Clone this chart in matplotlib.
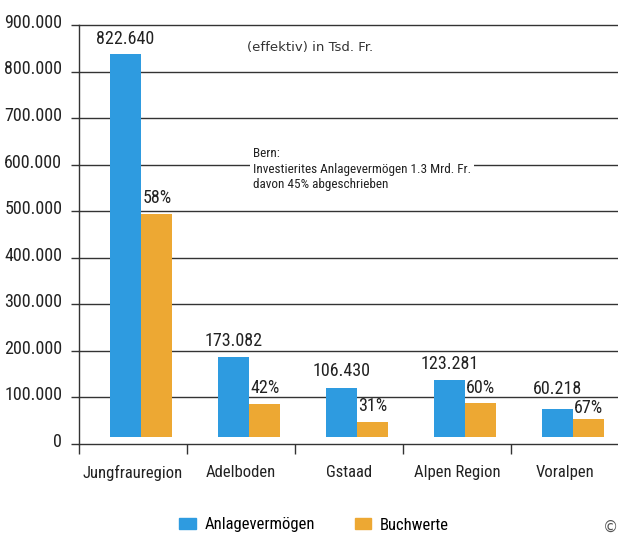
import numpy as np
import matplotlib
matplotlib.use("Agg")
import matplotlib.pyplot as plt
from matplotlib import font_manager
from matplotlib.patches import Patch
from matplotlib.transforms import ScaledTranslation

# data (Tsd. Fr.)
regions = ["Jungfrauregion", "Adelboden", "Gstaad", "Alpen Region", "Voralpen"]
anlage = [822640, 173082, 106430, 123281, 60218]
buchwerte = [480000, 72000, 33000, 73000, 40000]
anlage_labels = ["822.640", "173.082", "106.430", "123.281", "60.218"]
buch_labels = ["58%", "42%", "31%", "60%", "67%"]
yticks = [0, 100000, 200000, 300000, 400000, 500000, 600000, 700000, 800000, 900000]

BLUE = "#2e9be0"
ORANGE = "#eda833"
LINE = "#333333"

# narrow font if there is one, otherwise condensed dejavu
names = {f.name for f in font_manager.fontManager.ttflist}
narrow = None
for n in ["Liberation Sans Narrow", "Roboto Condensed", "Open Sans Condensed"]:
    if n in names:
        narrow = n
        break
if narrow:
    nfont = dict(family=[narrow, "DejaVu Sans"])
else:
    nfont = dict(family=["DejaVu Sans"], stretch="condensed")

fig = plt.figure(figsize=(6.18, 5.34), dpi=100)
ax = fig.add_axes([79 / 618, 90 / 534, 540 / 618, 419 / 534])

x = np.arange(len(regions))
shift = 0.075
w = 0.29
base = 14000  # bars float a little above the axis line

ax.bar(x + shift - w / 2, anlage, w, bottom=base, color=BLUE, zorder=3)
ax.bar(x + shift + w / 2, buchwerte, w, bottom=base, color=ORANGE, zorder=3)

# label offsets in points; the last pair is squeezed like in the original
blue_off = [5, 5, 6, 5, 8]
orange_off = [5, 5, 5, 5, 1]
for i in range(len(regions)):
    ax.annotate(anlage_labels[i], (x[i] + shift - w / 2, base + anlage[i]),
                xytext=(0, blue_off[i]), textcoords="offset points", ha="center",
                va="bottom", fontsize=13, color="#222222", **nfont)
    ax.annotate(buch_labels[i], (x[i] + shift + w / 2, base + buchwerte[i]),
                xytext=(0, orange_off[i]), textcoords="offset points", ha="center",
                va="bottom", fontsize=13, color="#222222", **nfont)

# horizontal rules
for v in yticks[1:]:
    ax.axhline(v, color=LINE, lw=1.0, zorder=1, clip_on=False)

ax.set_xlim(-0.5, len(regions) - 0.5)
ax.set_ylim(0, 900000)

ax.set_yticks(yticks)
ax.set_yticklabels(["{:,.0f}".format(v).replace(",", ".") for v in yticks], fontsize=13, **nfont)
ax.tick_params(axis="y", length=6, width=1.0, color=LINE, pad=6, labelcolor="#222222")
up = ScaledTranslation(0, 3 / 72, fig.dpi_scale_trans)
for lab in ax.get_yticklabels():
    lab.set_transform(lab.get_transform() + up)

ax.set_xticks(np.arange(len(regions) + 1) - 0.5)
ax.set_xticklabels([])
ax.tick_params(axis="x", which="major", length=7, width=1.0, color=LINE)
ax.set_xticks(x, minor=True)
ax.set_xticklabels(regions, minor=True, fontsize=12, color="#222222", **nfont)
ax.tick_params(axis="x", which="minor", length=0, pad=15)

for s in ["top", "right"]:
    ax.spines[s].set_visible(False)
for s in ["left", "bottom"]:
    ax.spines[s].set_color(LINE)
    ax.spines[s].set_linewidth(1.0)

# notes
fig.text(247 / 618, 1 - 47 / 534, "(effektiv) in Tsd. Fr.", fontsize=9.5,
         color="#333333", va="center", ha="left")
fig.text(253 / 618, 1 - 169 / 534,
         "Bern:\nInvestierites Anlagevermögen 1.3 Mrd. Fr.\ndavon 45% abgeschrieben",
         fontsize=9.5, color="#222222", va="center", ha="left", linespacing=1.25,
         bbox=dict(boxstyle="square,pad=0.2", fc="white", ec="none"), zorder=5, **nfont)

# legend at the bottom
handles = [Patch(color=BLUE, label="Anlagevermögen"), Patch(color=ORANGE, label="Buchwerte")]
leg = fig.legend(handles=handles, loc="center", bbox_to_anchor=(314 / 618, 9 / 534), ncol=2,
                 frameon=False, handlelength=1.0, handleheight=0.6, handletextpad=0.5,
                 columnspacing=2.4, borderpad=0.2, prop=dict(size=12, **nfont))

fig.text(0.975, 0.012, "©", fontsize=11, color="#555555", ha="left", va="center")

fig.savefig("out.png", dpi=100)
